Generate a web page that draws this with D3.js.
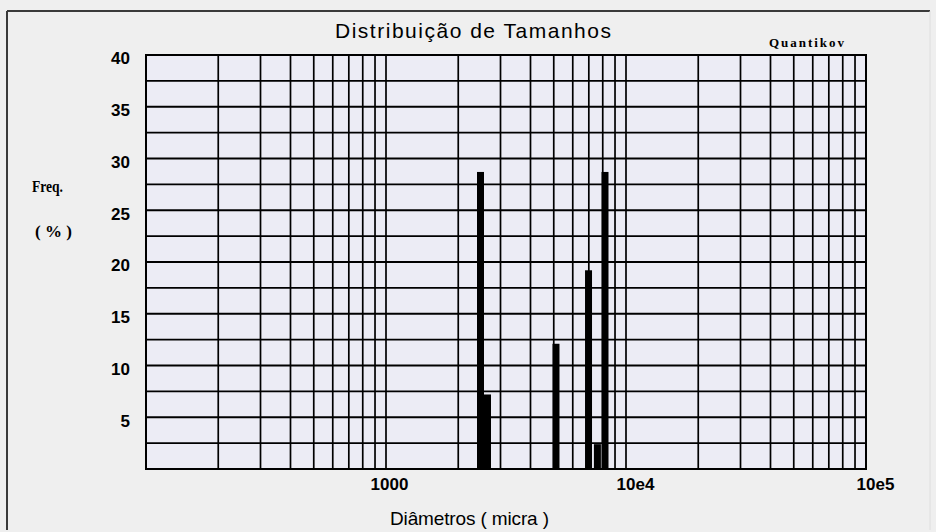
<!DOCTYPE html>
<html>
<head>
<meta charset="utf-8">
<script src="https://cdn.jsdelivr.net/npm/d3@7"></script>
<style>
  html, body { margin: 0; padding: 0; background: #efefef; }
  svg { display: block; }
</style>
</head>
<body>
<svg id="chart" width="936" height="532"></svg>
<script>
// ---- data ----
const barDiameters = [2476, 2648, 5108, 6980, 7600, 8175];   // micra
const barFreqs     = [28.7, 7.2, 12.1, 19.2, 2.4, 28.7];     // %
const xTickValues  = [1000, 10000, 100000];
const xTickLabels  = ["1000", "10e4", "10e5"];
const yTickValues  = [5, 10, 15, 20, 25, 30, 35, 40];
const yTickLabels  = ["5", "10", "15", "20", "25", "30", "35", "40"];
const yGridStep = 2.5;
const xDomain = [100, 100000];
const yDomain = [0, 40];
const titleText = "Distribuição de Tamanhos";
const xAxisTitle = "Diâmetros ( micra )";
const yAxisTitle1 = "Freq.";
const yAxisTitle2 = "( % )";
const brandText = "Quantikov";

// ---- layout ----
const W = 936, H = 532;
const plot = { left: 146, right: 866, top: 55, bottom: 469 };
const svg = d3.select("#chart");

// frame
svg.append("rect").attr("x", 0).attr("y", 0).attr("width", W).attr("height", H).attr("fill", "#efefef");
svg.append("line").attr("x1", 7).attr("x2", 930).attr("y1", 11).attr("y2", 11).attr("stroke", "#3a3a3a").attr("stroke-width", 2);
svg.append("line").attr("x1", 7).attr("x2", 7).attr("y1", 11).attr("y2", 530).attr("stroke", "#3a3a3a").attr("stroke-width", 2);
svg.append("line").attr("x1", 930).attr("x2", 930).attr("y1", 11).attr("y2", 530).attr("stroke", "#dedede").attr("stroke-width", 1);

const x = d3.scaleLog().domain(xDomain).range([plot.left, plot.right]);
const y = d3.scaleLinear().domain(yDomain).range([plot.bottom, plot.top]);

// plot background
svg.append("rect")
  .attr("x", plot.left).attr("y", plot.top)
  .attr("width", plot.right - plot.left).attr("height", plot.bottom - plot.top)
  .attr("fill", "#ececf5");

// vertical gridlines (log minor ticks)
svg.append("g").selectAll("line").data(x.ticks())
  .join("line")
  .attr("x1", d => x(d)).attr("x2", d => x(d))
  .attr("y1", plot.top).attr("y2", plot.bottom)
  .attr("stroke", "#000").attr("stroke-width", 1.7);

// horizontal gridlines
const yGrid = d3.range(yDomain[0], yDomain[1] + 1e-9, yGridStep);
svg.append("g").selectAll("line").data(yGrid)
  .join("line")
  .attr("x1", plot.left).attr("x2", plot.right)
  .attr("y1", d => y(d)).attr("y2", d => y(d))
  .attr("stroke", "#000").attr("stroke-width", 1.9);

// plot border
svg.append("rect")
  .attr("x", plot.left).attr("y", plot.top)
  .attr("width", plot.right - plot.left).attr("height", plot.bottom - plot.top)
  .attr("fill", "none").attr("stroke", "#000").attr("stroke-width", 2);

// bars
const barW = 7;
const bars = barDiameters.map((d, i) => ({ d, v: barFreqs[i] }));
svg.append("g").selectAll("rect").data(bars)
  .join("rect")
  .attr("x", b => x(b.d) - barW / 2)
  .attr("width", barW)
  .attr("y", b => y(b.v))
  .attr("height", b => y(0) - y(b.v))
  .attr("fill", "#000");

// x axis labels
const xAxis = d3.axisBottom(x)
  .tickValues(xTickValues)
  .tickFormat((d, i) => xTickLabels[i])
  .tickSize(0).tickPadding(0);
const gxa = svg.append("g").attr("transform", `translate(0,${plot.bottom})`).call(xAxis);
gxa.select(".domain").remove();
gxa.selectAll("text")
  .attr("y", 21).attr("dy", 0)
  .attr("dx", d => d === 1000 ? 3 : 9)
  .style("font-family", "'Liberation Sans', Arial, sans-serif")
  .style("font-weight", "bold")
  .style("font-size", "17px")
  .attr("fill", "#000");

// y axis labels
const yAxis = d3.axisLeft(y)
  .tickValues(yTickValues)
  .tickFormat((d, i) => yTickLabels[i])
  .tickSize(0).tickPadding(0);
const gya = svg.append("g").attr("transform", `translate(${plot.left - 16},0)`).call(yAxis);
gya.select(".domain").remove();
gya.selectAll("text")
  .attr("dy", "0.7em").attr("y", -3)
  .style("font-family", "'Liberation Sans', Arial, sans-serif")
  .style("font-weight", "bold")
  .style("font-size", "17px")
  .attr("fill", "#000");

// title
svg.append("text")
  .attr("x", 335).attr("y", 38)
  .attr("textLength", 276).attr("lengthAdjust", "spacing")
  .style("font-family", "'Liberation Sans', Arial, sans-serif")
  .style("font-size", "21px")
  .attr("fill", "#000")
  .text(titleText);

// brand
svg.append("text")
  .attr("x", 769).attr("y", 47)
  .attr("textLength", 75).attr("lengthAdjust", "spacing")
  .style("font-family", "'Liberation Serif', 'Times New Roman', serif")
  .style("font-weight", "bold")
  .style("font-size", "13px")
  .attr("fill", "#000")
  .text(brandText);

// x axis title
svg.append("text")
  .attr("x", 390).attr("y", 525)
  .attr("textLength", 159).attr("lengthAdjust", "spacing")
  .style("font-family", "'Liberation Sans', Arial, sans-serif")
  .style("font-size", "19px")
  .attr("fill", "#000")
  .text(xAxisTitle);

// y axis title
svg.append("text")
  .attr("x", 32).attr("y", 192)
  .attr("textLength", 31).attr("lengthAdjust", "spacingAndGlyphs")
  .style("font-family", "'Liberation Serif', 'Times New Roman', serif")
  .style("font-weight", "bold")
  .style("font-size", "17px")
  .attr("fill", "#000")
  .text(yAxisTitle1);
svg.append("text")
  .attr("x", 35).attr("y", 237)
  .attr("textLength", 37).attr("lengthAdjust", "spacing")
  .style("font-family", "'Liberation Serif', 'Times New Roman', serif")
  .style("font-weight", "bold")
  .style("font-size", "17px")
  .attr("fill", "#000")
  .text(yAxisTitle2);
</script>
</body>
</html>
